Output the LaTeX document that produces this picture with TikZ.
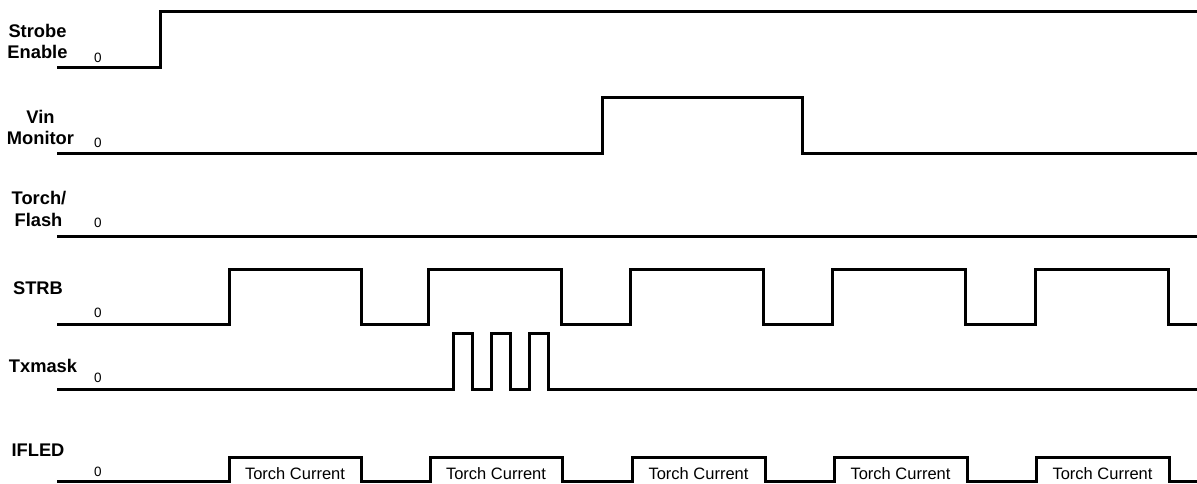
\documentclass[tikz,border=0pt]{standalone}
\usepackage{fontspec}
\setmainfont{Liberation Sans}
\begin{document}
\begin{tikzpicture}[x=1pt,y=-1pt,
  sig/.style={line width=3pt, line join=miter},
  lbl/.style={font=\bfseries\fontsize{18.3}{21}\selectfont, anchor=base, inner sep=0pt},
  zero/.style={font=\fontsize{13.5}{15}\selectfont, anchor=base, inner sep=0pt},
  tc/.style={font=\fontsize{16.5}{18}\selectfont, anchor=base, inner sep=0pt}]
\useasboundingbox (0,0) rectangle (1197,483);
% labels
\node[lbl] (se1) at (37.5,37) {Strobe};
\node[lbl] (se2) at (37.5,58) {Enable};
\node[zero] (z1) at (98,62) {0};
\node[lbl] (vm1) at (40.5,123) {Vin};
\node[lbl] (vm2) at (40.5,144) {Monitor};
\node[zero] (z2) at (98,147) {0};
\node[lbl] (tf1) at (39,204) {Torch/};
\node[lbl] (tf2) at (38.5,226) {Flash};
\node[zero] (z3) at (98,227) {0};
\node[lbl] (st) at (38,294) {STRB};
\node[zero] (z4) at (98,317) {0};
\node[lbl] (tx) at (43,372) {Txmask};
\node[zero] (z5) at (98,382) {0};
\node[lbl] (if) at (38,456) {IFLED};
\node[zero] (z6) at (98,476) {0};
% Strobe Enable
\draw[sig] (57,67) -- (160,67) -- (160,11) -- (1197,11);
% Vin Monitor
\draw[sig] (57,153) -- (602,153) -- (602,97) -- (802,97) -- (802,153) -- (1197,153);
% Torch/Flash
\draw[sig] (57,236) -- (1197,236);
% STRB
\draw[sig] (57,324) -- (229,324) -- (229,269) -- (361,269) -- (361,324)
  -- (428,324) -- (428,269) -- (561,269) -- (561,324)
  -- (630,324) -- (630,269) -- (763,269) -- (763,324)
  -- (832,324) -- (832,269) -- (965,269) -- (965,324)
  -- (1035,324) -- (1035,269) -- (1168,269) -- (1168,324) -- (1197,324);
% Txmask
\draw[sig] (57,389) -- (453,389) -- (453,333) -- (472,333) -- (472,389)
  -- (491,389) -- (491,333) -- (510,333) -- (510,389)
  -- (529,389) -- (529,333) -- (548,333) -- (548,389) -- (1197,389);
% IFLED
\draw[sig] (57,481) -- (229,481) -- (229,457) -- (361,457) -- (361,481)
  -- (430,481) -- (430,457) -- (562,457) -- (562,481)
  -- (632,481) -- (632,457) -- (765,457) -- (765,481)
  -- (834,481) -- (834,457) -- (967,457) -- (967,481)
  -- (1036,481) -- (1036,457) -- (1169,457) -- (1169,481) -- (1197,481);
\foreach \a/\b [count=\i] in {229/361,430/562,632/765,834/967,1036/1169}
  \node[tc] (tc\i) at ({(\a+\b)/2},479) {Torch Current};
\end{tikzpicture}
\end{document}
